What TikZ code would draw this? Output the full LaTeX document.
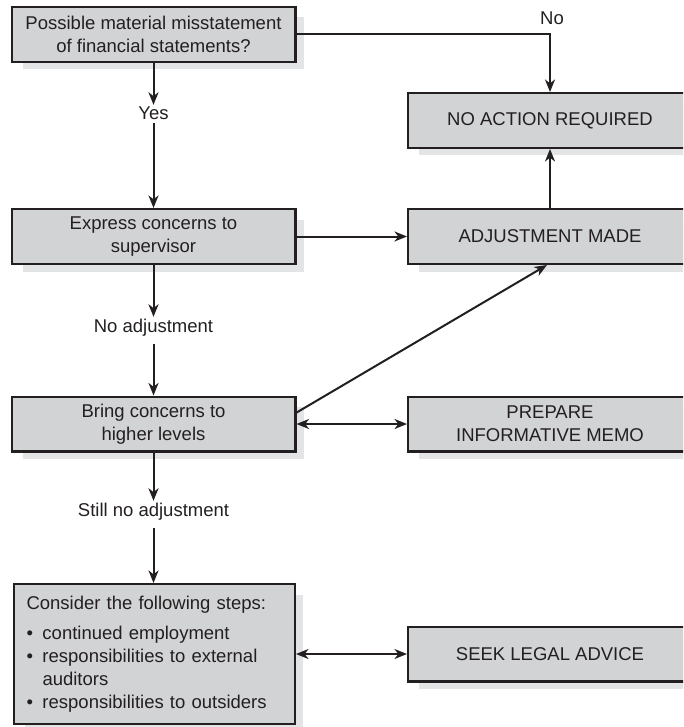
\documentclass[tikz,border=0pt]{standalone}
\usepackage{fontspec}
\setmainfont{Liberation Sans}
\usetikzlibrary{arrows.meta,backgrounds}
\definecolor{boxfill}{HTML}{D2D3D5}
\definecolor{boxshade}{HTML}{E3E4E6}
\definecolor{ink}{HTML}{231F20}
\newcommand{\flowfont}{\fontsize{18.5}{23}\selectfont}
\tikzset{
  x=1pt, y=-1pt,
  box/.style={draw=ink, line width=2.4pt, fill=boxfill, inner sep=0pt,
    minimum width=283.6pt, minimum height=54.6pt, align=center,
    font=\flowfont, text=ink},
  lbl/.style={anchor=base, inner sep=0pt, text height=15pt, text depth=12pt,
    font=\flowfont, text=ink},
  tip/.tip={Stealth[length=12.5pt,width=10pt,inset=3.8pt]},
  flow/.style={draw=ink, line width=2pt, -tip},
  twoway/.style={draw=ink, line width=2pt, tip-tip}
}
\begin{document}
\begin{tikzpicture}
\useasboundingbox (0,0) rectangle (683,727);
\clip (0,0) rectangle (683,727);

% left column
\node[box] (q) at (153.5,34.5) {Possible material misstatement\\of financial statements?};
\node[box] (expr) at (153.5,236.5) {Express concerns to\\supervisor};
\node[box] (bring) at (153.5,424) {Bring concerns to\\higher levels};
\node[box, minimum width=280.6pt, minimum height=139.6pt, text width=256pt,
      inner xsep=12.3pt, align=left] (steps) at (154.5,654)
  {Consider the following steps:\\[7.5pt]
   \makebox[16pt][l]{\textbullet}continued employment\\
   \makebox[16pt][l]{\textbullet}responsibilities to external\\
   \hspace*{16pt}auditors\\
   \makebox[16pt][l]{\textbullet}responsibilities to outsiders};

% right column (boxes run past the right edge)
\node[box] (noact) at (550,120.5) {NO ACTION REQUIRED};
\node[box] (adj) at (550,236.5) {ADJUSTMENT MADE};
\node[box] (prep) at (550,424) {PREPARE\\INFORMATIVE MEMO};
\node[box] (legal) at (550,654) {SEEK LEGAL ADVICE};

% edge labels
\node[lbl, text depth=3pt] (yes) at (153.5,120) {Yes};
\node[lbl] (noadj) at (153.5,332) {No adjustment};
\node[lbl] (still) at (153.5,516) {Still no adjustment};
\node[lbl, text depth=3pt] (no) at (552,25) {No};

% connectors
\draw[flow] (q.east) -| (noact.north);
\draw[flow] (q.south) -- (yes.north);
\draw[flow] (yes.south) -- (expr.north);
\draw[flow] (expr.east) -- (adj.west);
\draw[flow] (adj.north) -- (noact.south);
\draw[flow] (expr.south) -- (noadj.north);
\draw[flow] (noadj.south) -- (bring.north);
\draw[flow] ([yshift=11.4pt]bring.east) -- ([xshift=-3pt]adj.south);
\draw[twoway] (bring.east) -- (prep.west);
\draw[flow] (bring.south) -- (still.north);
\draw[flow] (still.south) -- (still.south |- steps.north);
\draw[twoway] (steps.east) -- (legal.west);

% soft drop shadows behind the boxes
\begin{pgfonlayer}{background}
  \clip (0,0) rectangle (683,727);
  \foreach \n in {q,expr,bring,steps,noact,adj,prep,legal}
    \fill[boxshade] ([shift={(12pt,-11.5pt)}]\n.north west)
      rectangle ([shift={(7pt,-6.5pt)}]\n.south east);
\end{pgfonlayer}
\end{tikzpicture}
\end{document}
